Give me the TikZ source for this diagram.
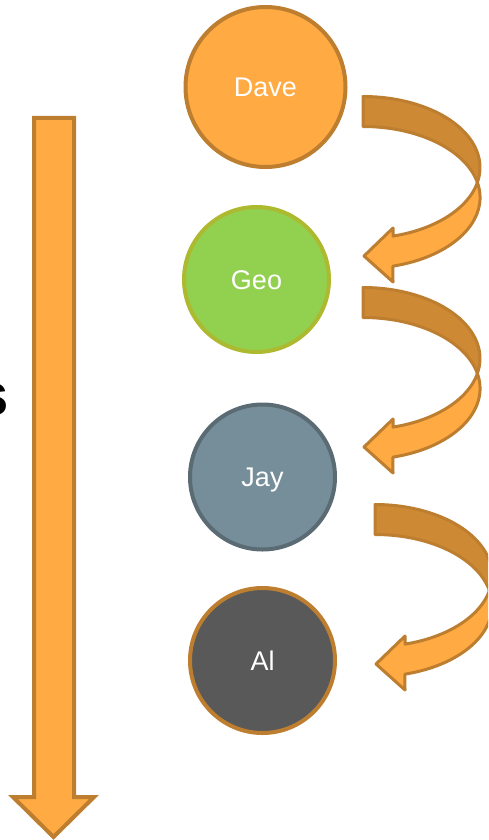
\documentclass[tikz,border=0pt]{standalone}
\usepackage{fontspec}
\setmainfont{Liberation Sans}
\definecolor{orfill}{HTML}{FFAA42}
\definecolor{orline}{HTML}{BD7E30}
\definecolor{ordark}{HTML}{CD8934}
\definecolor{grfill}{HTML}{92D050}
\definecolor{grline}{HTML}{ADBA30}
\definecolor{blfill}{HTML}{758E99}
\definecolor{blline}{HTML}{5A6B74}
\definecolor{gyfill}{HTML}{595959}
\newcommand\curvedarr[2]{%
  \begin{scope}[shift={(#1,#2)}]
    \filldraw[fill=orfill, draw=orline, line width=3pt, line join=round]
      (477.4,182.5) arc[start angle=-12.2, end angle=75.2, x radius=117, y radius=71]
      -- (393,282) -- (364,256) -- (393,228) -- (393,236.1)
      arc[start angle=75.2, end angle=12.2, x radius=117, y radius=71] -- cycle;
    \filldraw[fill=ordark, draw=orline, line width=3pt, line join=round]
      (363,96.5) arc[start angle=-90, end angle=12.2, x radius=117, y radius=71]
      arc[start angle=-12.2, end angle=-90, x radius=117, y radius=71] -- cycle;
  \end{scope}}
\begin{document}
\begin{tikzpicture}[x=1pt, y=-1pt,
  person/.style={circle, line width=4pt, inner sep=0pt, text=white,
    font=\fontsize{27}{27}\selectfont, text height=19.5pt, text depth=0pt},
  bigarrow/.style={fill=orfill, draw=orline, line width=4pt, line join=miter}]
  \useasboundingbox (0,0) rectangle (488,840);
  \clip (0,0) rectangle (488,840);
  % big vertical arrow
  \filldraw[bigarrow] (34,118) -- (74,118) -- (74,797) -- (94,797) -- (53.5,837)
    -- (13,797) -- (34,797) -- cycle;
  % cut-off text
  \node[anchor=base east, inner sep=0pt, font=\fontsize{60}{60}\selectfont\bfseries] (s) at (9,415) {s};
  % people
  \node[person, minimum size=160pt, fill=orfill, draw=orline] (dave) at (265.5,87) {Dave};
  \node[person, minimum size=145pt, fill=grfill, draw=grline] (geo) at (256.5,279.5) {Geo};
  \node[person, minimum size=145pt, fill=blfill, draw=blline] (jay) at (262.5,477) {Jay};
  \node[person, minimum size=145pt, fill=gyfill, draw=orline] (al) at (262.5,660.5) {Al};
  % curved arrows
  \curvedarr{0}{0}
  \curvedarr{0}{191}
  \curvedarr{12}{408}
\end{tikzpicture}
\end{document}
